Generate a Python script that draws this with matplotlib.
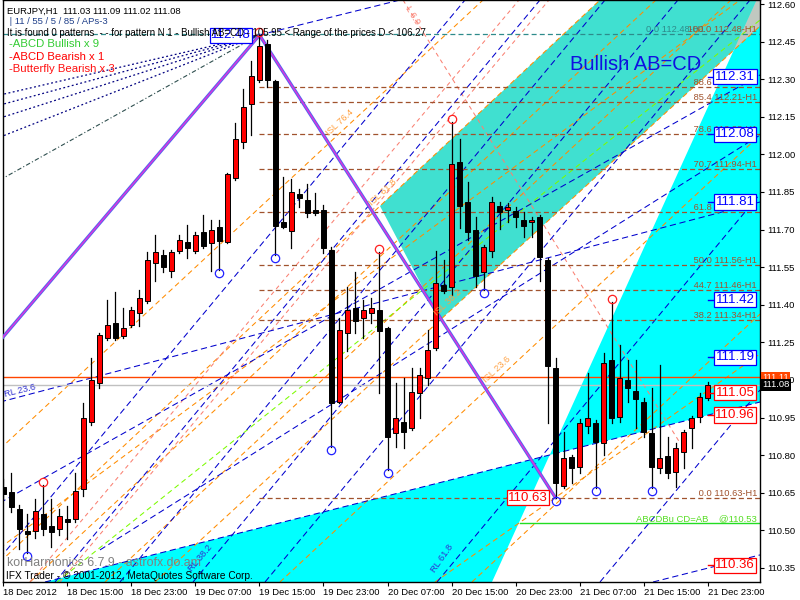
import matplotlib
matplotlib.use("Agg")
import matplotlib.pyplot as plt
from matplotlib.patches import Polygon
from matplotlib import transforms

plt.rcParams['font.family'] = ['Liberation Sans', 'DejaVu Sans']

# ---------------- data ----------------
opens = [110.673, 110.653, 110.586, 110.498, 110.498, 110.566, 110.518, 110.506, 110.546, 110.546,
         110.665, 110.933, 111.088, 111.268, 111.328, 111.276, 111.320, 111.367, 111.415, 111.567,
         111.599, 111.535, 111.615, 111.651, 111.615, 111.691, 111.647, 111.710, 111.651, 111.906,
         112.050, 112.201, 112.297, 112.440, 112.293, 111.730, 111.695, 111.842, 111.818, 111.778,
         111.778, 111.619, 111.012, 111.288, 111.387, 111.347, 111.367, 111.379, 111.308, 110.889,
         110.933, 110.909, 111.048, 111.108, 111.228, 111.479, 111.471, 111.970, 111.810, 111.699,
         111.531, 111.615, 111.794, 111.778, 111.774, 111.738, 111.730, 111.750, 111.579, 111.148,
         110.677, 110.793, 110.753, 110.917, 110.929, 110.849, 111.180, 110.953, 111.100, 111.056,
         111.012, 110.889, 110.749, 110.797, 110.733, 110.813, 110.909, 110.953, 111.03]
highs = [110.705, 110.729, 110.602, 110.566, 110.625, 110.681, 110.625, 110.586, 110.598, 110.729,
         111.008, 111.188, 111.288, 111.419, 111.451, 111.387, 111.391, 111.459, 111.611, 111.679,
         111.619, 111.619, 111.679, 111.718, 111.691, 111.758, 111.738, 111.738, 111.925, 112.125,
         112.261, 112.373, 112.476, 112.456, 112.297, 111.910, 111.902, 111.862, 111.882, 111.846,
         111.798, 111.631, 111.347, 111.471, 111.531, 111.419, 111.427, 111.611, 111.312, 111.088,
         111.108, 111.148, 111.148, 111.300, 111.615, 111.579, 112.129, 112.061, 111.890, 111.750,
         111.639, 111.830, 111.810, 111.806, 111.790, 111.770, 111.750, 111.758, 111.587, 111.188,
         110.893, 110.801, 110.945, 111.128, 110.941, 111.208, 111.411, 111.240, 111.180, 111.180,
         111.028, 111.068, 111.160, 110.873, 110.849, 110.901, 110.957, 111.048, 111.09]
lows = [110.620, 110.574, 110.426, 110.410, 110.470, 110.482, 110.434, 110.482, 110.466, 110.534,
        110.637, 110.921, 111.068, 111.260, 111.260, 111.268, 111.312, 111.316, 111.407, 111.495,
        111.531, 111.511, 111.607, 111.587, 111.607, 111.627, 111.535, 111.539, 111.645, 111.898,
        112.026, 112.077, 112.289, 112.269, 111.599, 111.707, 111.627, 111.790, 111.750, 111.758,
        111.607, 110.833, 111.008, 111.216, 111.288, 111.268, 111.328, 111.048, 110.741, 110.833,
        110.829, 110.901, 110.949, 111.080, 111.220, 111.447, 111.439, 111.707, 111.659, 111.471,
        111.459, 111.591, 111.703, 111.730, 111.710, 111.671, 111.671, 111.495, 110.929, 110.630,
        110.669, 110.689, 110.729, 110.889, 110.669, 110.801, 110.929, 110.933, 111.012, 110.909,
        110.873, 110.669, 110.729, 110.709, 110.673, 110.749, 110.829, 110.933, 111.02]
closes = [110.645, 110.594, 110.506, 110.486, 110.578, 110.506, 110.494, 110.558, 110.534, 110.657,
          110.949, 111.100, 111.280, 111.320, 111.268, 111.308, 111.379, 111.427, 111.579, 111.611,
          111.551, 111.611, 111.659, 111.627, 111.679, 111.635, 111.699, 111.655, 111.922, 112.061,
          112.189, 112.313, 112.432, 112.297, 111.714, 111.710, 111.850, 111.826, 111.766, 111.766,
          111.627, 111.008, 111.300, 111.379, 111.335, 111.379, 111.387, 111.296, 110.873, 110.949,
          110.893, 111.052, 111.120, 111.220, 111.487, 111.455, 111.962, 111.794, 111.691, 111.515,
          111.631, 111.810, 111.770, 111.790, 111.750, 111.714, 111.738, 111.591, 111.156, 110.689,
          110.789, 110.749, 110.929, 110.949, 110.853, 111.168, 110.949, 111.108, 111.068, 111.024,
          110.893, 110.753, 110.789, 110.729, 110.829, 110.893, 110.949, 111.032, 111.08]

time_label_bars = [0, 8, 16, 24, 32, 40, 48, 56, 64, 72, 80, 88]
time_labels = ["18 Dec 2012", "18 Dec 15:00", "18 Dec 23:00", "19 Dec 07:00", "19 Dec 15:00",
               "19 Dec 23:00", "20 Dec 07:00", "20 Dec 15:00", "20 Dec 23:00", "21 Dec 07:00",
               "21 Dec 15:00", "21 Dec 23:00"]
price_ticks = [110.35, 110.50, 110.65, 110.80, 110.95, 111.10, 111.25, 111.40, 111.55, 111.70,
               111.85, 112.00, 112.15, 112.30, 112.45, 112.60]

fib_ratios = ["100.0", "88.6", "85.4", "78.6", "70.7", "61.8", "50.0", "44.7", "38.2", "0.0"]
fib_levels = [112.48, 112.27, 112.21, 112.08, 111.94, 111.77, 111.56, 111.46, 111.34, 110.63]
fib_start_bar = 32

ask_price = 111.11
bid_price = 111.08
target_price = 110.53
target_start_bar = 64.6

pivot_low_bars = [3, 27, 34, 41, 48, 60, 69, 74, 81]
pivot_high_bars = [5, 32, 47, 56, 76]

pattern_a = (-0.44, 111.257)
pattern_b_bar = 32
pattern_c_bar = 69

right_boxes = [("112.31", 112.31, "blue"), ("112.08", 112.08, "blue"), ("111.81", 111.81, "blue"),
               ("111.42", 111.42, "blue"), ("111.19", 111.19, "blue"), ("111.05", 111.05, "red"),
               ("110.96", 110.96, "red"), ("110.36", 110.36, "red")]

# zones (bar, price)
turquoise_zone = [(47.06, 111.794), (74.56, 112.616), (94.56, 112.616), (94.56, 112.512), (54.56, 111.339)]
cyan_low_zone = [(5.19, 110.294), (68.28, 110.801), (61.06, 110.294)]
cyan_right_zone = [(68.28, 110.801), (94.13, 112.616), (94.56, 112.616), (94.56, 111.012)]
overlap_zone = [(91.29, 112.417), (94.13, 112.616), (94.56, 112.616), (94.56, 112.512)]

# trend lines (bar, price) -> (bar, price)
blue_lines = [((5.19, 110.294), (94.56, 111.012)),
              ((81.19, 110.294), (94.56, 110.402)),
              ((-0.44, 111.012), (94.56, 111.810)),
              ((-0.44, 110.610), (94.56, 112.317)),
              ((12.06, 110.422), (94.56, 112.077)),
              ((31.94, 112.476), (49.56, 112.616)),
              ((-0.44, 110.390), (57.69, 112.616)),
              ((6.44, 110.294), (67.06, 112.616)),
              ((14.56, 110.294), (75.19, 112.616)),
              ((23.69, 110.294), (84.31, 112.616)),
              ((32.69, 110.294), (93.31, 112.616)),
              ((54.19, 110.294), (94.56, 111.842)),
              ((74.56, 110.294), (94.56, 111.060))]
fan_starts = [112.237, 112.197, 112.145, 112.069]
fan_gray_start = 111.898
orange_lines = [((-0.44, 110.825), (59.94, 112.616)),
                ((-0.44, 110.374), (74.56, 112.616)),
                ((3.31, 110.294), (81.56, 112.616)),
                ((12.69, 110.294), (90.94, 112.616)),
                ((18.94, 110.294), (94.56, 112.512)),
                ((34.56, 110.294), (94.56, 112.077)),
                ((58.56, 110.294), (94.56, 111.363)),
                ((-0.44, 110.430), (92.06, 112.616)),
                ((53.94, 110.294), (94.56, 111.204))]
salmon_lines = [((3.31, 110.294), (64.44, 112.616)),
                ((7.06, 110.294), (68.19, 112.616)),
                ((49.94, 112.616), (84.56, 110.849))]
lime_lines = [((6.69, 110.294), (94.56, 112.536))]

# ---------------- figure ----------------
W, H = 800, 600
fig = plt.figure(figsize=(8, 6), dpi=100)
fig.patch.set_facecolor('white')
ax = fig.add_axes([3 / W, 18 / H, 757 / W, 582 / H])
ax.set_xlim(-0.06, 94.56)
ax.set_ylim(110.294, 112.616)
ax.set_facecolor('white')

def P(x, y):
    return x / W, 1 - y / H

# zones
ax.add_patch(Polygon(turquoise_zone, closed=True, facecolor='#40E0D0', edgecolor='none', zorder=1))
ax.add_patch(Polygon(cyan_low_zone, closed=True, facecolor='#00FFFF', edgecolor='none', zorder=1))
ax.add_patch(Polygon(cyan_right_zone, closed=True, facecolor='#00FFFF', edgecolor='none', zorder=1))
ax.add_patch(Polygon(overlap_zone, closed=True, facecolor='#C0C8C0', edgecolor='none', zorder=1.1))

def draw_lines(lines, color, dashes, lw=0.75, z=2):
    for (a, b) in lines:
        ln, = ax.plot([a[0], b[0]], [a[1], b[1]], color=color, lw=lw, zorder=z)
        ln.set_dashes(dashes)

draw_lines(orange_lines, '#FF8C00', (5, 3.5))
draw_lines(salmon_lines, '#FA8072', (4, 3.5))
draw_lines(lime_lines, '#7CFC00', (5, 3.5))
draw_lines(blue_lines, '#0000CD', (6, 3.5))
for s in fan_starts:
    ln, = ax.plot([-0.44, 31.94], [s, highs[32]], color='#000080', lw=0.9, zorder=2)
    ln.set_dashes((1.5, 2))
ln, = ax.plot([-0.44, 31.94], [fan_gray_start, highs[32]], color='#2F4F4F', lw=0.8, zorder=2)
ln.set_dashes((4, 2, 1, 2))

# horizontal levels
ln, = ax.plot([-0.06, 94.56], [fib_levels[0], fib_levels[0]], color='#2E8B8B', lw=0.9, zorder=2.2)
ln.set_dashes((4, 2.5))
for lev in fib_levels[1:]:
    ln, = ax.plot([fib_start_bar, 94.56], [lev, lev], color='#A0522D', lw=0.9, zorder=2.2)
    ln.set_dashes((4, 2.5))
ax.plot([-0.06, 94.56], [ask_price, ask_price], color='#FF4500', lw=1.0, zorder=2.3)
ax.plot([-0.06, 94.56], [bid_price, bid_price], color='#C0C0C0', lw=1.0, zorder=2.3)
ax.plot([target_start_bar, 94.56], [target_price, target_price], color='#22DD22', lw=1.0, zorder=2.3)

# pattern lines
pts_x = [pattern_a[0], pattern_b_bar, pattern_c_bar]
pts_y = [pattern_a[1], highs[pattern_b_bar], lows[pattern_c_bar]]
ax.plot(pts_x, pts_y, color='#5566EE', lw=2.4, zorder=3, solid_capstyle='round')
ax.plot(pts_x, pts_y, color='#DD33DD', lw=1.0, zorder=3.1, solid_capstyle='round')

# candles
n = len(opens)
for i in range(n):
    o, h, l, c = opens[i], highs[i], lows[i], closes[i]
    ax.plot([i, i], [l, h], color='black', lw=0.9, zorder=4)
    bot = min(o, c)
    hgt = max(abs(c - o), 0.004)
    col = '#FF0000' if c >= o else '#000000'
    ax.bar(i, hgt, bottom=bot, width=0.56, color=col, edgecolor='black', linewidth=0.7, zorder=5)

# pivot circles
off_dn = transforms.offset_copy(ax.transData, fig=fig, x=0, y=-3, units='dots')
off_up = transforms.offset_copy(ax.transData, fig=fig, x=0, y=3, units='dots')
ax.plot(pivot_low_bars, [lows[i] for i in pivot_low_bars], 'o', ms=6, mfc='none', mec='#2020FF',
        mew=0.9, transform=off_dn, zorder=6)
ax.plot(pivot_high_bars, [highs[i] for i in pivot_high_bars], 'o', ms=6, mfc='none', mec='#FF2020',
        mew=0.9, transform=off_up, zorder=6)

# axes styling
for sp in ax.spines.values():
    sp.set_color('black')
    sp.set_linewidth(1.0)
ax.yaxis.tick_right()
ax.set_yticks(price_ticks)
ax.set_yticklabels(["%.2f" % p for p in price_ticks])
ax.tick_params(axis='y', direction='out', length=3, width=0.8, pad=2, labelsize=6.8, colors='black')
ax.set_xticks(time_label_bars)
ax.set_xticklabels(time_labels)
ax.tick_params(axis='x', direction='out', length=3, width=0.8, pad=1.5, labelsize=6.8)
for lbl in ax.get_xticklabels():
    lbl.set_ha('left')

bt = transforms.blended_transform_factory(fig.transFigure, ax.transData)

# fib labels
for r, lev in zip(fib_ratios, fib_levels):
    ax.text(757 / W, lev, " %s %.2f-H1" % (r, lev), transform=bt, ha='right', va='bottom',
            fontsize=6.7, color='#A0522D', zorder=7)
ax.text(646 / W, fib_levels[0], "0.0 %.2f-H1" % fib_levels[0], transform=bt, ha='left', va='bottom',
        fontsize=6.7, color='#2E8B8B', zorder=6.9)
ax.text(757 / W, target_price, "ABCDBu CD=AB    @%.2f" % target_price, transform=bt, ha='right',
        va='bottom', fontsize=6.8, color='#55DD22', zorder=7)

# boxes
boxfont = ['Liberation Sans Narrow', 'Liberation Sans']
for txt, p, colr in right_boxes:
    ax.plot([88, 89.3], [p, p], color=colr, lw=1.0, zorder=6)
    ax.text(735 / W, p, txt, transform=bt, ha='center', va='center', fontsize=9.5, color=colr,
            family=boxfont, zorder=8,
            bbox=dict(boxstyle='square,pad=0.12', facecolor='white', edgecolor=colr, linewidth=0.9))
ax.text(528 / W, lows[69], "%.2f" % lows[69], transform=bt, ha='center', va='center', fontsize=9.5,
        color='red', family=boxfont, zorder=8,
        bbox=dict(boxstyle='square,pad=0.12', facecolor='white', edgecolor='red', linewidth=0.9))
ax.text(231 / W, highs[32], "%.2f" % 112.48, transform=bt, ha='center', va='center', fontsize=9.5,
        color='blue', family=boxfont, zorder=8,
        bbox=dict(boxstyle='square,pad=0.12', facecolor='white', edgecolor='blue', linewidth=0.9))

# right-axis price highlights
fig.text(762 / W, ask_price, "%.2f" % ask_price, transform=bt, ha='left', va='center', fontsize=6.8,
         color='white', zorder=9,
         bbox=dict(boxstyle='square,pad=0.15', facecolor='#FF4500', edgecolor='none'))
fig.text(762 / W, bid_price, "%.2f" % bid_price, transform=bt, ha='left', va='center', fontsize=6.8,
         color='white', zorder=9,
         bbox=dict(boxstyle='square,pad=0.15', facecolor='black', edgecolor='none'))

# header texts
fig.text(*P(7, 11), "EURJPY,H1  111.03 111.09 111.02 111.08", fontsize=6.8, color='black', va='center')
fig.text(*P(7, 21), " | 11 / 55 / 5 / 85 / APs-3", fontsize=6.8, color='#20408A', va='center')
fig.text(*P(7, 33), "It is found 0 patterns  - - for pattern N 1 - Bullish AB=CD - 105.95 < Range of the prices D < 106.27",
         fontsize=6.9, color='black', va='center')
fig.text(*P(9, 44), "-ABCD Bullish x 9", fontsize=8.2, color='#33CC33', va='center')
fig.text(*P(9, 57), "-ABCD Bearish x 1", fontsize=8.2, color='#FF0000', va='center')
fig.text(*P(9, 69), "-Butterfly Bearish x 3", fontsize=8.2, color='#FF1010', va='center')
fig.text(*P(570, 64), "Bullish AB=CD", fontsize=14.5, color='#1010E0', va='center')
fig.text(*P(7, 563), "korHarmonics 6.7.9 - astrofx.do.am", fontsize=8.9, color='#808080', va='center')
fig.text(*P(6, 576), "IFX Trader - \u00a9 2001-2012, MetaQuotes Software Corp.", fontsize=7.3,
         color='black', va='center')

# rotated line labels
fig.text(*P(20, 391), "RL 23.6", fontsize=6.7, color='#3030D0', rotation=14, ha='center', va='center')
fig.text(*P(200, 558), "RL 38.2", fontsize=6.7, color='#3030D0', rotation=50, ha='center', va='center')
fig.text(*P(442, 558), "RL 61.8", fontsize=6.7, color='#3030D0', rotation=55, ha='center', va='center')
for s, (x, y) in zip(["ISL 76.4", "ISL 61.8", "ISL 38.2", "ISL 23.6"],
                     [(340, 123), (383, 192), (448, 303), (497, 370)]):
    fig.text(*P(x, y), s, fontsize=6.7, color='#FFA040', rotation=43, ha='center', va='center')
fig.text(*P(412, 15), "L 6.9", fontsize=6.7, color='#FA8072', rotation=-58, ha='center', va='center')

fig.savefig("out.png", dpi=100)
